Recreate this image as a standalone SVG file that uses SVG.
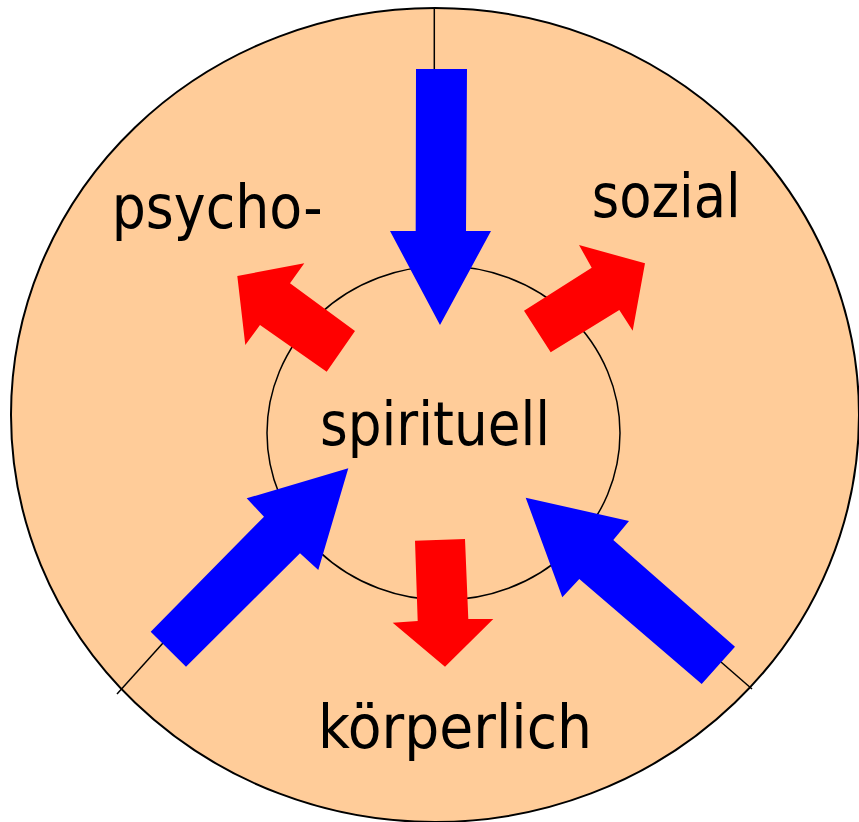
<svg xmlns="http://www.w3.org/2000/svg" width="859" height="822" viewBox="0 0 859 822">
<style>
.ring{fill:#FFCC99;stroke:#000;stroke-width:2}
.inner{fill:none;stroke:#000;stroke-width:1.5}
.tick{stroke:#000;stroke-width:1.5;fill:none}
.blue{fill:#0000FF}
.red{fill:#FF0000}
.lbl{font-family:"DejaVu Sans Condensed","DejaVu Sans",sans-serif;font-size:60px;fill:#000}
</style>
<rect width="859" height="822" fill="#fff"/>
<g id="outer"><ellipse class="ring" cx="435" cy="415" rx="424" ry="407"/></g>
<g id="inner"><ellipse class="inner" cx="443.5" cy="433" rx="176.5" ry="167"/></g>
<g id="dividers">
<line class="tick" x1="434.3" y1="9" x2="434.3" y2="70"/>
<line class="tick" x1="163" y1="643" x2="117" y2="694"/>
<line class="tick" x1="721" y1="662" x2="752" y2="689"/>
</g>
<g id="connectors">
<polygon class="blue" points="416,69 467,69 466,231 491,231 440,325 390,231 415.7,231"/>
<polygon class="blue" points="348.3,468.3 318.3,570 300,553.3 186,666.7 150.7,631.7 264,516.7 246.7,498.3"/>
<polygon class="blue" points="525.7,497.7 629,521 613.3,540 735,646.7 701.7,684 579.3,579 562.3,597.3"/>
<polygon class="red" points="237.3,276 304.3,263.3 290,283.3 355,331 326.7,371.7 260,325 245.3,345"/>
<polygon class="red" points="645,263.3 632.7,330.7 619.3,310 550.7,352.3 524,310.7 591.7,267.7 579,245"/>
<polygon class="red" points="415,540.7 465,539 468.3,619 493.3,619 445,666.7 392.7,622.7 417.7,621"/>
</g>
<g id="psycho"><text class="lbl" x="111.7" y="228" textLength="211" lengthAdjust="spacingAndGlyphs">psycho-</text></g>
<g id="sozial"><text class="lbl" x="591.7" y="217" textLength="149" lengthAdjust="spacingAndGlyphs">sozial</text></g>
<g id="spirituell"><text class="lbl" x="320" y="445" textLength="230" lengthAdjust="spacingAndGlyphs">spirituell</text></g>
<g id="koerperlich"><text class="lbl" x="318" y="748" textLength="274" lengthAdjust="spacingAndGlyphs">körperlich</text></g>
</svg>
